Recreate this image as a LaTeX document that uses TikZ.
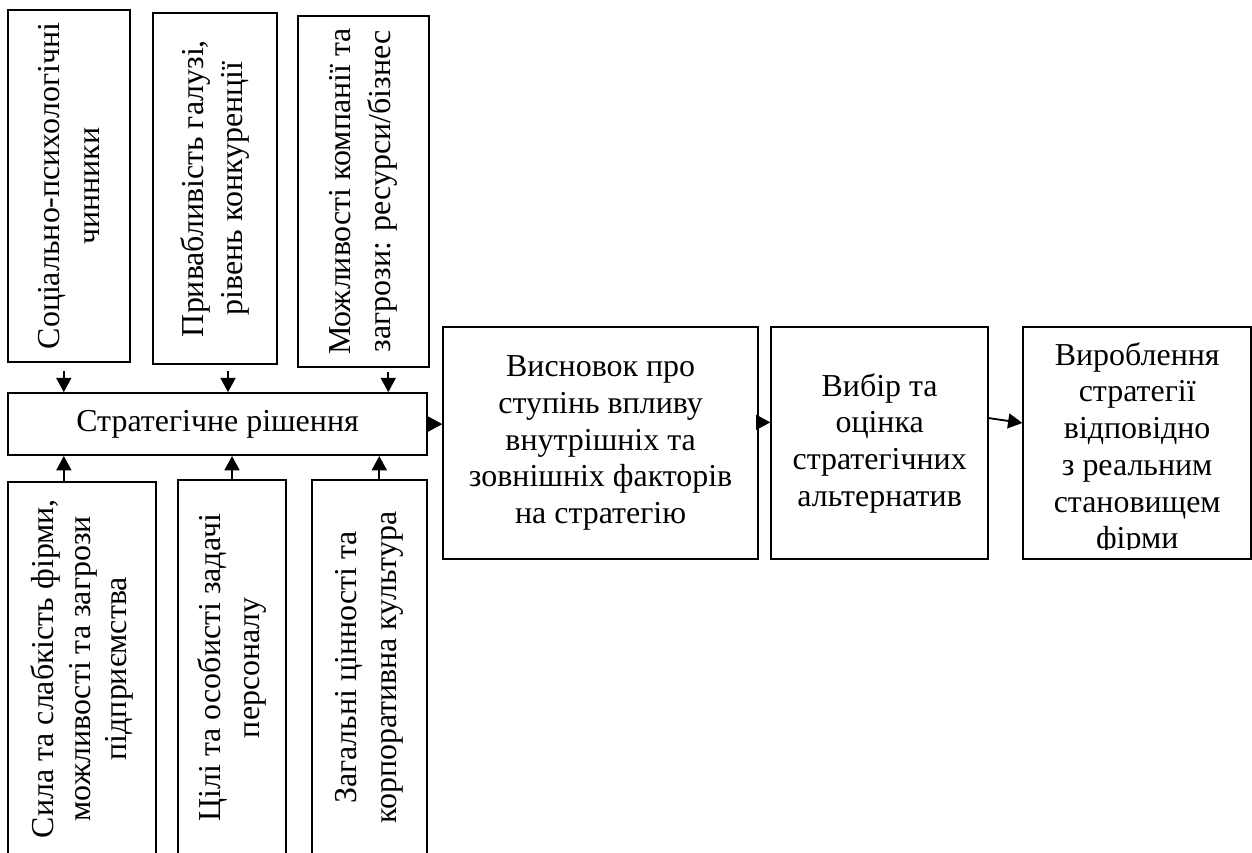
\documentclass[tikz,border=0pt]{standalone}
\usepackage{fontspec}
\setmainfont{Liberation Serif}
\usetikzlibrary{positioning,arrows.meta,calc}
\tikzset{
  fig/.style={font=\fontsize{14pt}{16.1pt}\selectfont},
  box/.style={draw,line width=0.8pt,align=center,inner sep=2pt},
  vbox/.style={box,rotate=90,font=\fontsize{14pt}{17.5pt}\selectfont},
  flowbox/.style={box,minimum height=35.75mm,font=\fontsize{14pt}{16.1pt}\selectfont},
  ln/.style={-{Triangle[length=2.2mm,width=2.3mm]},line width=0.8pt},
}

\begin{document}
\begin{tikzpicture}[fig]
\useasboundingbox (0,0) rectangle (19.29,-13.13);
\clip (0,0) rectangle (19.29,-13.13);

% =======================  factors above the decision  =====================
\node[vbox,minimum width=54.2mm,minimum height=18.8mm] (soc) at (1.063,-2.866)
     {Соціально-психологічні\\чинники};
\node[vbox,minimum width=54.1mm,minimum height=19.1mm] (ind) at (3.313,-2.905)
     {Привабливість галузі,\\рівень конкуренції};
\node[vbox,minimum width=54.1mm,minimum height=20.2mm] (opp) at (5.602,-2.951)
     {Можливості компанії та\\загрози: ресурси/бізнес};

\node[box,minimum width=64.6mm,minimum height=9.55mm] (dec) at (3.352,-6.534)
     {Стратегічне рішення};

% =======================  factors below the decision  =====================
\node[vbox,minimum width=57.5mm,minimum height=22.8mm,
      font=\fontsize{14pt}{16.1pt}\selectfont] (swot) at (1.264,-10.302)
     {Сила та слабкість фірми,\\можливості та загрози\\підприємства};
\node[vbox,minimum width=57.8mm,minimum height=16.6mm] (goal) at (3.575,-10.286)
     {Цілі та особисті задачі\\персоналу};
\node[vbox,minimum width=57.8mm,minimum height=17.7mm] (cult) at (5.694,-10.286)
     {Загальні цінності та\\корпоративна культура};

\draw[ln] ([xshift=-0.8mm,yshift=-1.2mm]soc.west) coordinate (s1) -- (s1 |- dec.north);
\draw[ln] ([xshift=2.0mm,yshift=-0.9mm]ind.west) coordinate (s2) -- (s2 |- dec.north);
\draw[ln] ([xshift=3.8mm,yshift=-0.6mm]opp.west) coordinate (s3) -- (s3 |- dec.north);
\draw[ln] ([xshift=-2.8mm]swot.east) coordinate (s4) -- (s4 |- dec.south);
\draw[ln] (goal.east) -- (goal.east |- dec.south);
\draw[ln] ([xshift=1.5mm]cult.east) coordinate (s6) -- (s6 |- dec.south);

% =======================  decision flow  ==================================
\node[flowbox,minimum width=48.5mm] (concl) at (9.254,-6.827)
     {Висновок про\\ступінь впливу\\внутрішніх та\\зовнішніх факторів\\на стратегію};
\node[flowbox,minimum width=33.4mm] (alt) at (13.553,-6.827)
     {Вибір та\\оцінка\\стратегічних\\альтернатив};
\node[flowbox,minimum width=35.1mm] (dev) at (17.521,-6.827) {};
\begin{scope}
  \clip (dev.north west) rectangle ([yshift=1.7mm]dev.south east);
  \node[align=center,inner sep=0pt] (devtxt) at ([yshift=-0.9mm]dev.center)
       {Вироблення\\стратегії\\відповідно\\з реальним\\становищем\\фірми};
\end{scope}

\draw[ln] ([xshift=0.8mm]dec.east) coordinate (h1) -- (h1 -| concl.west);
\draw[ln] ([yshift=3.2mm]concl.east) -- ([yshift=3.2mm]alt.west);
\draw[ln] ([yshift=3.85mm]alt.east) -- ([yshift=3.1mm]dev.west);

\end{tikzpicture}
\end{document}
